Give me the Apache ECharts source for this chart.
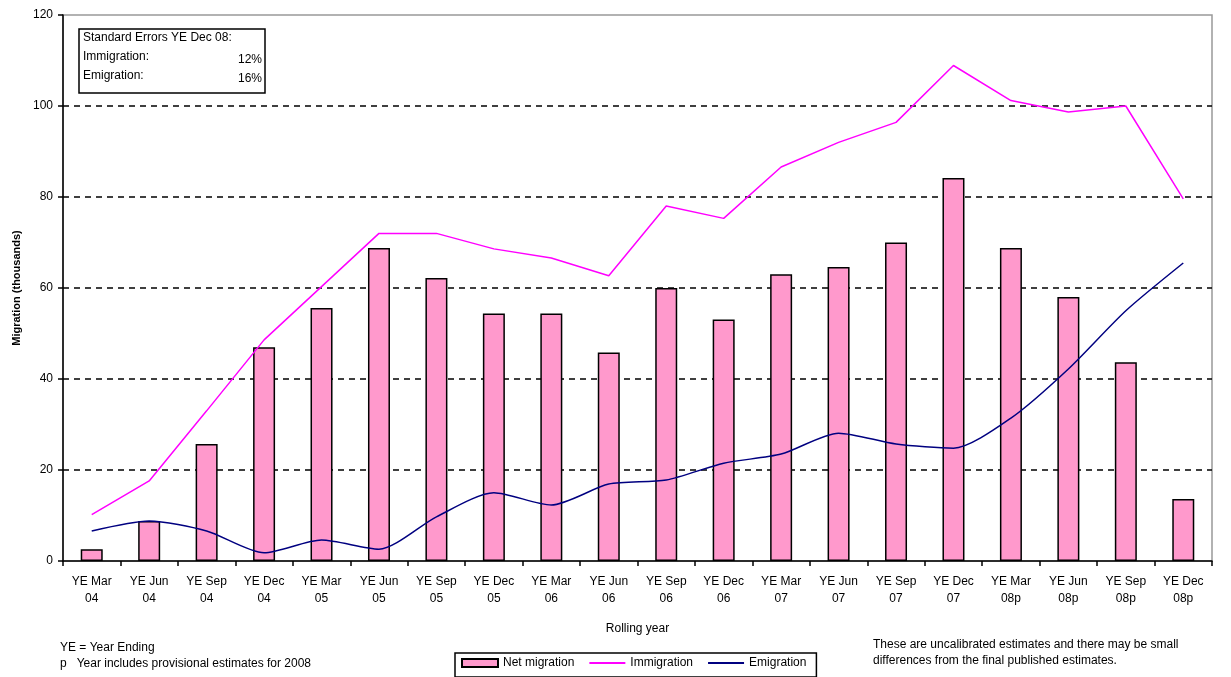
<!DOCTYPE html>
<html>
<head>
<meta charset="utf-8">
<script src="https://cdn.jsdelivr.net/npm/echarts@6/dist/echarts.min.js"></script>
<style>
  html, body { margin: 0; padding: 0; background: #fff; }
  #chart_container { width: 1231px; height: 677px; }
</style>
</head>
<body>
<div id="chart_container"></div>
<script>
// rolling year categories (two line labels)
const periods = ["YE Mar\n04", "YE Jun\n04", "YE Sep\n04", "YE Dec\n04", "YE Mar\n05", "YE Jun\n05", "YE Sep\n05", "YE Dec\n05", "YE Mar\n06", "YE Jun\n06", "YE Sep\n06", "YE Dec\n06", "YE Mar\n07", "YE Jun\n07", "YE Sep\n07", "YE Dec\n07", "YE Mar\n08p", "YE Jun\n08p", "YE Sep\n08p", "YE Dec\n08p"]

// thousands
const netMigration = [2.6, 8.8, 25.7, 47, 55.6, 68.8, 62.2, 54.4, 54.4, 45.8, 60, 53.1, 63, 64.6, 70, 84.2, 68.8, 58, 43.7, 13.6]
const immigration = [10.2, 17.6, 33, 48.6, 60.3, 72, 72, 68.6, 66.6, 62.7, 78, 75.3, 86.6, 92, 96.4, 108.9, 101.2, 98.7, 100, 79.6]
const emigration = [6.6, 8.8, 6.6, 1.8, 4.6, 2.6, 9.7, 15, 12.3, 16.9, 17.8, 21.5, 23.5, 28.1, 25.7, 24.8, 31.4, 42.2, 55, 65.5]

const yTicks = [0, 20, 40, 60, 80, 100, 120]

const errorTitle = "Standard Errors YE Dec 08:"
const errorNotes = [["Immigration:", "12%"], ["Emigration:", "16%"]]

const fontFam = "'Liberation Sans Narrow', 'Liberation Sans', Arial, sans-serif"

document.addEventListener("DOMContentLoaded", buildChart);

function txt(x, y, s, align){
    return {
        type: "text", x: x, y: y, z: 20,
        style: { text: s, font: "12px " + fontFam, fill: "#000", textAlign: align || "left", textVerticalAlign: "top" }
    }
}

function buildChart(){
    let chart = echarts.init(document.getElementById('chart_container'));

    // split lines: dashed black except the top (frame) line
    let splitColors = yTicks.map(v => v === 120 || v === 0 ? "rgba(0,0,0,0)" : "#000")

    let notes = [
        {
            type: "rect", x: 79, y: 29, z: 15,
            shape: { width: 186, height: 64 },
            style: { fill: "#fff", stroke: "#000", lineWidth: 1.5 }
        },
        txt(83, 32, errorTitle)
    ]
    errorNotes.forEach((row, i) => {
        notes.push(txt(83, 51 + i * 19, row[0]))
        notes.push(txt(262, 54 + i * 19, row[1], "right"))
    })
    notes.push(txt(60, 642, "YE = Year Ending"))
    notes.push(txt(60, 658, "p   Year includes provisional estimates for 2008"))
    notes.push(txt(873, 639, "These are uncalibrated estimates and there may be small"))
    notes.push(txt(873, 655, "differences from the final published estimates."))

    let option = {
        backgroundColor: "#fff",
        animation: false,
        textStyle: { fontFamily: fontFam },
        grid: {
            left: 63, right: 19, top: 15, bottom: 116,
            show: true, borderColor: "#999", borderWidth: 1.5
        },
        legend: {
            left: 455, top: 653,
            padding: [4, 10, 8, 6],
            borderColor: "#000", borderWidth: 1.5,
            itemGap: 14, itemWidth: 36, itemHeight: 8,
            textStyle: { fontSize: 12, color: "#000", fontFamily: fontFam },
            data: [
                { name: "Net migration", icon: "rect" },
                { name: "Immigration", itemStyle: { opacity: 0 } },
                { name: "Emigration", itemStyle: { opacity: 0 } }
            ]
        },
        xAxis: {
            type: "category",
            data: periods,
            name: "Rolling year",
            nameLocation: "middle",
            nameGap: 62,
            nameTextStyle: { fontSize: 12, color: "#000" },
            axisLine: { lineStyle: { color: "#000", width: 1.5 } },
            axisTick: { show: true, length: 5, lineStyle: { color: "#000", width: 1.5 } },
            axisLabel: { interval: 0, fontSize: 12, lineHeight: 17, color: "#000", margin: 12 }
        },
        yAxis: {
            type: "value",
            min: 0, max: 120, interval: 20,
            name: "Migration (thousands)",
            nameLocation: "middle",
            nameRotate: 90,
            nameGap: 40,
            nameTextStyle: { fontSize: 11, fontWeight: "bold", color: "#000" },
            axisLine: { show: true, lineStyle: { color: "#000", width: 1.5 } },
            axisTick: { show: true, length: 5, lineStyle: { color: "#000", width: 1.5 } },
            axisLabel: { fontSize: 12, color: "#000", margin: 10 },
            splitLine: { show: true, lineStyle: { color: splitColors, type: [6, 5], width: 1.5 } }
        },
        series: [
            {
                name: "Net migration",
                type: "bar",
                data: netMigration,
                barWidth: 22,
                itemStyle: { color: "#ff99cc", borderColor: "#000", borderWidth: 1.5 }
            },
            {
                name: "Immigration",
                type: "line",
                data: immigration,
                symbol: "none",
                lineStyle: { color: "#ff00ff", width: 1.5 },
                itemStyle: { color: "#ff00ff" }
            },
            {
                name: "Emigration",
                type: "line",
                data: emigration,
                symbol: "none",
                smooth: 0.25,
                lineStyle: { color: "#000080", width: 1.5 },
                itemStyle: { color: "#000080" }
            }
        ],
        graphic: notes
    };

    if (chart){
        chart.setOption(option);
    } else {
        console.error("Echart instance failed to init")
    }
}
</script>
</body>
</html>
